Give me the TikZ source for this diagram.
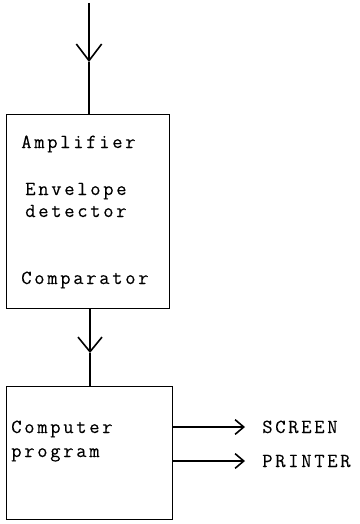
\documentclass[tikz,border=0pt]{standalone}
\usepackage{fontspec}
\usetikzlibrary{arrows.meta}
\newfontfamily\twfam{Latin Modern Mono}[LetterSpace=13.5, FakeBold=0.2]
\newcommand{\twfont}{\twfam\fontsize{15pt}{18pt}\selectfont}
\begin{document}
\begin{tikzpicture}[x=0.75pt,y=-0.75pt,
  box/.style={draw, line width=1pt, inner sep=0pt, anchor=north west},
  txt/.style={font=\twfont, inner sep=0pt, anchor=base west},
  wire/.style={line width=1pt},
  barbtop/.style={wire, -{Straight Barb[length=12.5pt, width=19pt, line width=1.2pt]}},
  barbmid/.style={wire, -{Straight Barb[length=11pt, width=18pt, line width=1.2pt]}},
  barbout/.style={wire, -{Straight Barb[length=6.5pt, width=11pt, line width=1.2pt]}}]
\useasboundingbox (0,0) rectangle (360,524);
% processing blocks
\node[box, minimum width=122.25pt, minimum height=145.5pt] (b1) at (6,114) {};
\node[box, minimum width=124.5pt, minimum height=99.75pt] (b2) at (6,386) {};
% labels inside the blocks
\node[txt] (amp) at (21,148) {Amplifier};
\node[txt] (env) at (25,195) {Envelope};
\node[txt] (det) at (25,217) {detector};
\node[txt] (cmp) at (21,284) {Comparator};
\node[txt] (cpu) at (11,433) {Computer};
\node[txt] (prg) at (11,457) {program};
% output devices
\node[txt] (scr) at (262,433) {SCREEN};
\node[txt] (prn) at (262,467) {PRINTER};
% signal path
\coordinate (in) at (89,3);
\coordinate (a1) at (89,62);
\coordinate (o1) at (90,308);
\coordinate (a2) at (90,353);
\coordinate (s1) at (245,427);
\coordinate (s2) at (245,461);
\draw[barbtop] (in) -- (a1);
\draw[wire] (a1) -- (a1 |- b1.north);
\draw[barbmid] (o1) -- (a2);
\draw[wire] (a2) -- (a2 |- b2.north);
\draw[barbout] (b2.east |- s1) -- (s1);
\draw[barbout] (b2.east |- s2) -- (s2);
\end{tikzpicture}
\end{document}
